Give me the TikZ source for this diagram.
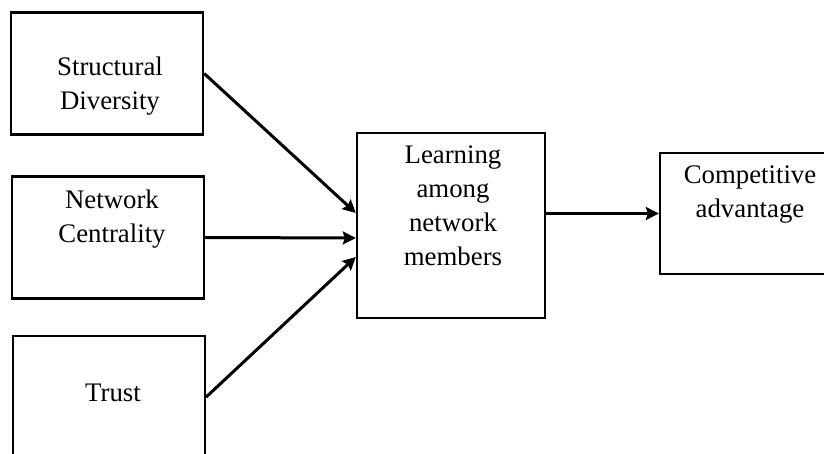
\documentclass[tikz,border=0pt]{standalone}
\usepackage{fontspec}
\setmainfont{Liberation Serif}
\usetikzlibrary{arrows.meta,positioning,calc}
\tikzstyle{box} = [draw,line width=1.2pt,rectangle,minimum width=96pt,minimum height=61pt,inner sep=0pt]
\tikzstyle{lbl} = [align=center,inner sep=0pt,font=\fontsize{13.4}{17}\selectfont]
\tikzstyle{arrow} = [line width=1.5pt,->,>={Stealth[length=6.5pt,width=6.5pt,inset=1pt]}]

\begin{document}
\begin{tikzpicture}[x=0.5pt,y=-0.5pt]
\useasboundingbox (0,0) rectangle (824,454);
% antecedents
\node[box] (sd) at (107,73.5) {};
\node[box] (nc) at (108,237.5) {};
\node[box] (tr) at (109,397) {};
% mediator and outcome
\node[box,minimum width=94pt,minimum height=92.5pt] (lrn) at (451,225.5) {};
\node[box,minimum width=92pt,minimum height=60.5pt] (cmp) at (752,213.5) {};
% texts
\node[lbl] (sdtext) at (110,86.5) {Structural\\Diversity};
\node[lbl] (nctext) at (112,219) {Network\\Centrality};
\node[lbl] (trtext) at (113,393) {Trust};
\node[lbl] (lrntext) at (453,206) {Learning\\among\\network\\members};
\node[lbl] (cmptext) at (750,195) {Competitive\\advantage};
% arrows
\draw[arrow] (sd.east) -- ($(lrn.west)+(0,-12.5)$);
\draw[arrow] (nc.east) -- ($(lrn.west)+(0,12.5)$);
\draw[arrow] (tr.east) -- ($(lrn.west)+(0,31.5)$);
\draw[arrow] (lrn.east |- cmp.west) -- (cmp.west);
\end{tikzpicture}
\end{document}
